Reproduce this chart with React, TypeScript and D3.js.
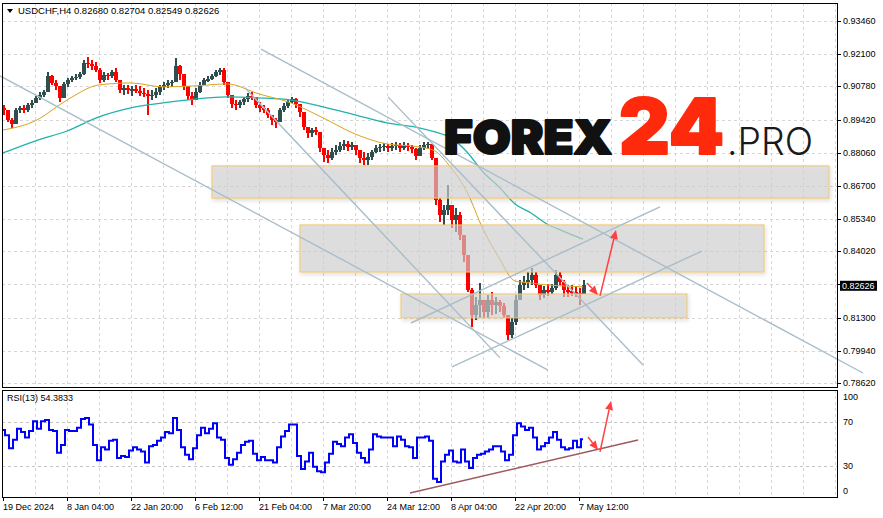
import React from 'react';
import * as d3 from 'd3';

// H4 bars (one entry per 4px column)
const barHigh = [
  0.9002, 0.8981, 0.8949, 0.899, 0.8998, 0.9002, 0.901, 0.9022, 0.9039, 0.9055,
  0.9063, 0.9137, 0.9125, 0.9104, 0.908, 0.9096, 0.9113, 0.9121, 0.9129, 0.9137,
  0.9186, 0.9199, 0.9186, 0.9178, 0.9154, 0.9137, 0.9133, 0.9145, 0.9154, 0.9104,
  0.9084, 0.9084, 0.908, 0.9084, 0.908, 0.9072, 0.9063, 0.9063, 0.9072, 0.9084,
  0.9096, 0.9104, 0.9104, 0.9195, 0.9166, 0.9125, 0.9072, 0.9055, 0.9072, 0.9096,
  0.9113, 0.9121, 0.9129, 0.9145, 0.9154, 0.9154, 0.9096, 0.9031, 0.9022, 0.9022,
  0.9035, 0.9051, 0.9055, 0.9031, 0.9014, 0.9002, 0.899, 0.8961, 0.8949, 0.899,
  0.901, 0.9022, 0.9035, 0.9031, 0.9002, 0.8961, 0.8912, 0.8908, 0.8912, 0.8879,
  0.8826, 0.8817, 0.8826, 0.8838, 0.885, 0.8858, 0.8854, 0.885, 0.8838, 0.8817,
  0.8809, 0.8805, 0.8817, 0.8838, 0.8842, 0.8846, 0.8842, 0.8846, 0.885, 0.8846,
  0.885, 0.8846, 0.8838, 0.8826, 0.8838, 0.885, 0.885, 0.8842, 0.8785, 0.862,
  0.8592, 0.8674, 0.8592, 0.858, 0.8563, 0.8469, 0.8387, 0.8252, 0.8215, 0.8272,
  0.8202, 0.8223, 0.8235, 0.8215, 0.8202, 0.819, 0.8129, 0.8129, 0.8223, 0.8284,
  0.8301, 0.8317, 0.8334, 0.8317, 0.8264, 0.826, 0.8268, 0.8268, 0.8325, 0.8317,
  0.8284, 0.8264, 0.8264, 0.826, 0.8252, 0.8284,
];
const barLow = [
  0.8961, 0.8932, 0.8908, 0.8924, 0.8969, 0.8969, 0.8973, 0.899, 0.901, 0.9022,
  0.9035, 0.9055, 0.9084, 0.9063, 0.9014, 0.9031, 0.9076, 0.9096, 0.9104, 0.9108,
  0.9125, 0.9154, 0.9145, 0.9137, 0.9092, 0.9096, 0.9104, 0.9113, 0.9096, 0.9051,
  0.9043, 0.9047, 0.9039, 0.9051, 0.9039, 0.9035, 0.8961, 0.9022, 0.9031, 0.9043,
  0.9063, 0.9072, 0.9076, 0.9096, 0.9104, 0.9063, 0.9022, 0.9002, 0.9022, 0.9051,
  0.9084, 0.9096, 0.9104, 0.9117, 0.9125, 0.9084, 0.9031, 0.899, 0.8981, 0.899,
  0.9002, 0.9014, 0.9022, 0.899, 0.8973, 0.8969, 0.8949, 0.892, 0.8908, 0.894,
  0.8973, 0.899, 0.901, 0.899, 0.8953, 0.8899, 0.8867, 0.8871, 0.8879, 0.8809,
  0.8768, 0.8764, 0.8776, 0.8797, 0.8809, 0.8817, 0.8813, 0.8817, 0.8797, 0.8764,
  0.8756, 0.8756, 0.8776, 0.8805, 0.8809, 0.8813, 0.8809, 0.8813, 0.8817, 0.8809,
  0.8817, 0.8813, 0.8805, 0.8776, 0.8797, 0.8817, 0.8822, 0.8776, 0.8592, 0.8522,
  0.851, 0.8551, 0.8498, 0.8481, 0.8448, 0.8358, 0.8235, 0.8092, 0.812, 0.8129,
  0.8129, 0.8129, 0.8141, 0.8145, 0.8153, 0.8129, 0.8038, 0.8047, 0.81, 0.8202,
  0.8243, 0.8252, 0.8264, 0.8252, 0.8202, 0.8211, 0.8219, 0.8227, 0.8243, 0.8264,
  0.8215, 0.8215, 0.8219, 0.8215, 0.8182, 0.8227,
];
const barClose = [
  0.8981, 0.894, 0.8924, 0.8981, 0.899, 0.8981, 0.9002, 0.901, 0.9031, 0.9043,
  0.9055, 0.9121, 0.9092, 0.908, 0.9031, 0.9088, 0.9104, 0.9113, 0.9117, 0.9129,
  0.9174, 0.917, 0.9162, 0.9145, 0.9104, 0.9125, 0.9121, 0.9137, 0.9104, 0.9063,
  0.9072, 0.9063, 0.9067, 0.9059, 0.9051, 0.9047, 0.9039, 0.9043, 0.9055, 0.9076,
  0.9084, 0.9092, 0.9096, 0.9162, 0.9129, 0.908, 0.9039, 0.9022, 0.9055, 0.9084,
  0.9104, 0.9108, 0.9121, 0.9137, 0.9145, 0.9096, 0.9043, 0.9006, 0.9002, 0.9014,
  0.9026, 0.9039, 0.9035, 0.9002, 0.899, 0.8981, 0.8961, 0.894, 0.8932, 0.8981,
  0.8998, 0.9014, 0.9026, 0.9006, 0.8973, 0.8912, 0.8887, 0.8899, 0.8891, 0.8826,
  0.8797, 0.8785, 0.8809, 0.8817, 0.8834, 0.8842, 0.883, 0.8838, 0.8817, 0.8785,
  0.8776, 0.8789, 0.8809, 0.8826, 0.883, 0.8834, 0.8826, 0.8834, 0.8838, 0.8826,
  0.8834, 0.883, 0.8822, 0.8793, 0.8826, 0.8838, 0.8842, 0.8785, 0.8612, 0.8551,
  0.8572, 0.8592, 0.8531, 0.8551, 0.8469, 0.8387, 0.8243, 0.8141, 0.8182, 0.8202,
  0.8153, 0.8202, 0.8182, 0.8194, 0.8178, 0.8141, 0.8059, 0.8112, 0.8202, 0.8264,
  0.8276, 0.8284, 0.8305, 0.8264, 0.8223, 0.8243, 0.8235, 0.8252, 0.8305, 0.8276,
  0.8243, 0.8239, 0.8235, 0.8231, 0.8227, 0.82626,
];
const firstOpen = 0.899;

// moving averages, sampled at these bar indices
const maIdx = [0, 8, 16, 24, 32, 40, 48, 56, 64, 72, 80, 88, 96, 104, 108, 112, 116, 120, 124, 128, 132, 136, 140, 145];
const maFast = [0.8899, 0.8936, 0.9022, 0.9084, 0.9092, 0.9076, 0.908, 0.9088, 0.9047, 0.901, 0.8949, 0.8883, 0.8842, 0.883, 0.8813, 0.8744, 0.8645, 0.8493, 0.8375, 0.828, 0.8272, 0.8264, 0.826, 0.8256];
const maSlow = [0.8805, 0.8854, 0.8895, 0.8953, 0.899, 0.901, 0.9026, 0.9035, 0.9031, 0.9022, 0.8994, 0.8961, 0.8928, 0.8908, 0.8891, 0.8867, 0.8809, 0.8727, 0.8666, 0.8596, 0.8559, 0.8514, 0.8485, 0.8452];

const rsiValues = [
  63, 58, 46, 54, 64, 61, 56, 62, 71, 64,
  71, 72, 63, 62, 42, 49, 63, 62, 62, 65,
  73, 74, 68, 49, 35, 47, 45, 53, 54, 37,
  39, 38, 44, 47, 45, 43, 33, 48, 49, 53,
  56, 61, 60, 74, 63, 47, 40, 36, 46, 58,
  65, 60, 64, 69, 56, 54, 37, 31, 36, 42,
  49, 52, 53, 41, 35, 38, 35, 35, 33, 47,
  57, 62, 68, 68, 39, 27, 34, 42, 29, 25,
  24, 33, 41, 52, 50, 48, 56, 59, 51, 42,
  37, 33, 45, 59, 57, 56, 56, 56, 48, 57,
  54, 48, 47, 37, 56, 56, 57, 53, 18, 15,
  34, 40, 44, 34, 33, 45, 34, 28, 37, 40,
  41, 43, 45, 48, 48, 43, 35, 40, 58, 69,
  66, 63, 65, 56, 45, 48, 51, 56, 61, 54,
  47, 45, 46, 53, 47, 54.38,
];

const priceTicks = [0.9346, 0.921, 0.9078, 0.8942, 0.8806, 0.867, 0.8534, 0.8402, 0.8266, 0.813, 0.7994, 0.7862];
const timeIdx = [0, 16, 32, 48, 64, 80, 96, 112, 128, 144];
const timeLabels = ['19 Dec 2024', '8 Jan 04:00', '22 Jan 20:00', '6 Feb 12:00', '21 Feb 04:00', '7 Mar 20:00', '24 Mar 12:00', '8 Apr 04:00', '22 Apr 20:00', '7 May 12:00'];
const rsiTicks = [100, 70, 30, 0];
const rsiLevels = [70, 30];

// analysis objects in [bar index, price]
const trendLines = [
  [[-0.75, 0.9121], [136.25, 0.7915]],
  [[64.5, 0.9231], [215, 0.7903]],
  [[96.25, 0.9035], [160, 0.7936]],
  [[60.5, 0.9072], [124.25, 0.7965]],
  [[102, 0.8108], [164.25, 0.8584]],
  [[112.25, 0.7928], [174.75, 0.8403]],
];
const zones = [
  [52.25, 206.5, 0.8752, 0.862],
  [74.25, 190.25, 0.851, 0.8317],
  [99.5, 171, 0.8227, 0.8129],
];
const priceArrows = [
  [[146, 0.8272], [148.75, 0.8223]],
  [[149.25, 0.8219], [153.25, 0.8489]],
];
const rsiArrows = [
  [[146.25, 56.5], [148.75, 44.5]],
  [[149.25, 42.7], [152, 89.7]],
];
const rsiTrend = [[101.75, 4.9], [158.75, 53.7]];

const FONT = '"Liberation Sans", Arial, sans-serif';
const LOGO_FONT = 'Inter, Lato, "Open Sans", sans-serif';
const GRID = '#d6d6d6';

const sx = d3.scaleLinear().domain([0, 208]).range([3, 835]);
const sy = d3.scaleLinear().domain([0.7862, 0.9346]).range([383, 21]);
const sr = d3.scaleLinear().domain([0, 100]).range([498.3, 389.7]);

function Arrow({ x1, y1, x2, y2 }: { x1: number; y1: number; x2: number; y2: number }) {
  const a = Math.atan2(y2 - y1, x2 - x1);
  const len = 9, half = 4;
  const bx = x2 - len * Math.cos(a), by = y2 - len * Math.sin(a);
  const pts = [
    [x2, y2],
    [bx + half * Math.sin(a), by - half * Math.cos(a)],
    [bx - half * Math.sin(a), by + half * Math.cos(a)],
  ];
  return (
    <g>
      <line x1={x1} y1={y1} x2={bx} y2={by} stroke="#ff4040" strokeWidth={1.5} />
      <polygon points={pts.map(p => p.join(',')).join(' ')} fill="#ff4040" />
    </g>
  );
}

export default function App() {
  const vGrid = d3.range(8, 209, 8);

  const maLine = d3.line<number>()
    .x((_, i) => sx(maIdx[i]))
    .y(d => sy(d))
    .curve(d3.curveMonotoneX);

  const rsiLine = d3.line<number>()
    .x((_, i) => sx(i))
    .y(d => sr(d))
    .curve(d3.curveStep);

  const last = barClose[barClose.length - 1];

  return (
    <svg width={883} height={518} style={{ position: 'absolute', left: 0, top: 0, background: '#fff' }}>
      <defs>
        <filter id="zshadow" x="-5%" y="-20%" width="110%" height="150%">
          <feDropShadow dx="1" dy="2" stdDeviation="2" floodColor="#000" floodOpacity="0.18" />
        </filter>
        <clipPath id="mainClip">
          <rect x={2} y={3} width={835} height={384} />
        </clipPath>
      </defs>

      {/* grid */}
      <g stroke={GRID} strokeDasharray="3,3" shapeRendering="crispEdges">
        {priceTicks.map(p => (
          <line key={p} x1={2} x2={837} y1={Math.round(sy(p)) + 0.5} y2={Math.round(sy(p)) + 0.5} />
        ))}
        {vGrid.map(i => (
          <line key={'m' + i} x1={sx(i) + 0.5} x2={sx(i) + 0.5} y1={3} y2={387} />
        ))}
        {vGrid.map(i => (
          <line key={'r' + i} x1={sx(i) + 0.5} x2={sx(i) + 0.5} y1={390} y2={497} />
        ))}
        {rsiLevels.map(l => (
          <line key={'l' + l} x1={2} x2={837} y1={Math.round(sr(l)) + 0.5} y2={Math.round(sr(l)) + 0.5} stroke="#c4c4c4" />
        ))}
      </g>

      <g clipPath="url(#mainClip)">
        {/* candles */}
        <g shapeRendering="crispEdges">
          {barClose.map((c, i) => {
            const o = i === 0 ? firstOpen : barClose[i - 1];
            const up = c >= o;
            const col = up ? '#2f4f4f' : '#ff0000';
            const hi = Math.max(barHigh[i], o, c);
            const lo = Math.min(barLow[i], o, c);
            const x = Math.round(sx(i));
            const top = sy(Math.max(o, c));
            const bot = sy(Math.min(o, c));
            return (
              <g key={i}>
                <rect x={x - 0.5} y={sy(hi)} width={2} height={sy(lo) - sy(hi)} fill={col} />
                <rect x={x - 1.5} y={top} width={4} height={Math.max(1.5, bot - top)} fill={col} />
              </g>
            );
          })}
        </g>

        {/* moving averages */}
        <path d={maLine(maSlow) || ''} fill="none" stroke="#20b2aa" strokeWidth={1.3} />
        <path d={maLine(maFast) || ''} fill="none" stroke="#daa520" strokeWidth={1} />

        {/* zones */}
        {zones.map((z, k) => (
          <rect key={k} x={sx(z[0])} y={sy(z[2])} width={sx(z[1]) - sx(z[0])} height={sy(z[3]) - sy(z[2])}
            fill="#d2d2d2" fillOpacity={0.62} stroke="#f2c56c" strokeWidth={1} filter="url(#zshadow)" />
        ))}
      </g>

      {/* trend lines */}
      <g stroke="#a9bdca" strokeWidth={1.4}>
        {trendLines.map((l, k) => (
          <line key={k} x1={sx(l[0][0])} y1={sy(l[0][1])} x2={sx(l[1][0])} y2={sy(l[1][1])} />
        ))}
      </g>

      {priceArrows.map((a, k) => (
        <Arrow key={k} x1={sx(a[0][0])} y1={sy(a[0][1])} x2={sx(a[1][0])} y2={sy(a[1][1])} />
      ))}

      {/* logo */}
      <g>
        <text x={444} y={154} fontFamily={LOGO_FONT} fontWeight={900} fontSize={47}
          textLength={168} lengthAdjust="spacingAndGlyphs" fill="#111" stroke="#111" strokeWidth={2.2}
          strokeLinejoin="round">FOREX</text>
        <text x={619} y={154} fontFamily={LOGO_FONT} fontWeight={900} fontSize={77}
          textLength={105} lengthAdjust="spacingAndGlyphs" fill="#ff2a0c" stroke="#ff2a0c" strokeWidth={2}
          strokeLinejoin="round">24</text>
        <text x={727} y={155} fontFamily={LOGO_FONT} fontWeight={300} fontSize={38}
          textLength={86} lengthAdjust="spacingAndGlyphs" fill="#1a1a1a">.PRO</text>
      </g>

      {/* RSI panel */}
      <line x1={sx(rsiTrend[0][0])} y1={sr(rsiTrend[0][1])} x2={sx(rsiTrend[1][0])} y2={sr(rsiTrend[1][1])}
        stroke="#9e5a5e" strokeWidth={1.6} />
      <path d={rsiLine(rsiValues) || ''} fill="none" stroke="#0000ff" strokeWidth={2} strokeLinejoin="miter" />
      {rsiArrows.map((a, k) => (
        <Arrow key={k} x1={sx(a[0][0])} y1={sr(a[0][1])} x2={sx(a[1][0])} y2={sr(a[1][1])} />
      ))}

      {/* frames */}
      <g fill="none" stroke="#000" shapeRendering="crispEdges">
        <rect x={2.5} y={3.5} width={835} height={384} />
        <rect x={2.5} y={390.5} width={835} height={107} />
      </g>

      {/* header */}
      <path d="M7,9 L13,9 L10,13 Z" fill="#000" />
      <text x={18} y={14} fontFamily={FONT} fontSize={9.5} fill="#000">
        USDCHF,H4  0.82680 0.82704 0.82549 0.82626
      </text>
      <text x={7} y={401} fontFamily={FONT} fontSize={9} fill="#000">RSI(13) 54.3833</text>

      {/* price axis */}
      <g fontFamily={FONT} fontSize={9} fill="#000">
        {priceTicks.map(p => (
          <g key={p}>
            <line x1={837} x2={841} y1={Math.round(sy(p)) + 0.5} y2={Math.round(sy(p)) + 0.5} stroke="#000" />
            <text x={843} y={sy(p) + 3}>{p.toFixed(5)}</text>
          </g>
        ))}
      </g>
      <rect x={840} y={sy(last) - 4.5} width={37} height={10} fill="#000" />
      <text x={842} y={sy(last) + 3.5} fontFamily={FONT} fontSize={9} fill="#fff">{last.toFixed(5)}</text>

      {/* rsi axis */}
      <g fontFamily={FONT} fontSize={9} fill="#000">
        {rsiTicks.map(t => (
          <text key={t} x={843} y={Math.min(Math.max(sr(t), 397), 491) + 3}>{t}</text>
        ))}
      </g>

      {/* time axis */}
      <g fontFamily={FONT} fontSize={9} fill="#000">
        {timeIdx.map((t, k) => (
          <g key={t}>
            <line x1={sx(t) + 0.5} x2={sx(t) + 0.5} y1={497} y2={501} stroke="#000" />
            <text x={sx(t)} y={510}>{timeLabels[k]}</text>
          </g>
        ))}
      </g>
    </svg>
  );
}
